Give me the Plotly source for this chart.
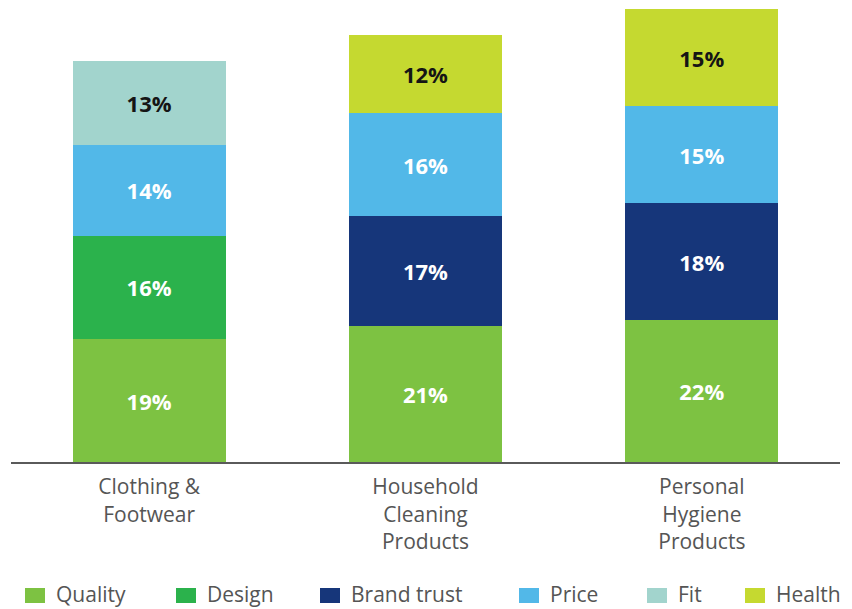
import plotly.graph_objects as go

# Purchase drivers by product category (share of respondents, %)
categories = ["Clothing &<br>Footwear", "Household<br>Cleaning<br>Products", "Personal<br>Hygiene<br>Products"]

quality = [19, 21, 22]
design = [16, None, None]
brand_trust = [None, 17, 18]
price = [14, 16, 15]
fit = [13, None, None]
health = [None, 12, 15]

series_names = ["Quality", "Design", "Brand trust", "Price", "Fit", "Health"]
series_values = [quality, design, brand_trust, price, fit, health]
series_colors = ["#7dc242", "#2bb24c", "#16367a", "#52b8e8", "#a2d4cd", "#c5d930"]
label_colors = ["#ffffff", "#ffffff", "#ffffff", "#ffffff", "#151515", "#151515"]

W, H = 852, 609
M_L, M_R, M_T, M_B = 11, 12, 8, 147
PLOT_W = W - M_L - M_R
PLOT_H = H - M_T - M_B

fig = go.Figure()
for name, vals, col, lcol in zip(series_names, series_values, series_colors, label_colors):
    fig.add_trace(go.Bar(
        x=categories,
        y=vals,
        name=name,
        marker=dict(color=col, line=dict(width=0)),
        texttemplate="%{y}%",
        textposition="inside",
        insidetextanchor="middle",
        textangle=0,
        constraintext="none",
        textfont=dict(family="Open Sans", size=22, color=lcol, weight="bold"),
        hoverinfo="skip",
    ))


def px_x(px):
    return (px - M_L) / PLOT_W


def px_y(py):
    return (H - M_B - py) / PLOT_H


# Legend row drawn under the axis: coloured swatch followed by its name
legend_left = [25, 176, 320, 519, 647, 745]
legend_row_y = 594
shapes = []
annotations = []
for name, col, lx in zip(series_names, series_colors, legend_left):
    shapes.append(dict(
        type="rect", xref="paper", yref="paper",
        x0=px_x(lx), x1=px_x(lx + 20),
        y0=px_y(legend_row_y + 1.5 + 7.5), y1=px_y(legend_row_y + 1.5 - 7.5),
        fillcolor=col, line=dict(width=0), layer="above",
    ))
    annotations.append(dict(
        xref="paper", yref="paper",
        x=px_x(lx + 29), y=px_y(legend_row_y),
        xanchor="left", yanchor="middle",
        text=name, showarrow=False,
        font=dict(family="Open Sans", size=21, color="#555555"),
    ))

fig.update_layout(
    width=W, height=H,
    margin=dict(l=M_L, r=M_R, t=M_T, b=M_B, pad=0),
    barmode="stack",
    bargap=0.446,
    showlegend=False,
    plot_bgcolor="#ffffff",
    paper_bgcolor="#ffffff",
    shapes=shapes,
    annotations=annotations,
    xaxis=dict(
        type="category",
        range=[-0.5, 2.5],
        showline=True, linecolor="#5a5a5a", linewidth=2,
        showgrid=False, zeroline=False,
        ticks="",
        tickfont=dict(family="Open Sans", size=21, color="#555555"),
        ticklabelstandoff=5,
        fixedrange=True,
    ),
    yaxis=dict(
        range=[0, 70.2],
        visible=False,
        showgrid=False, zeroline=False,
        fixedrange=True,
    ),
)

fig.write_html("out.html")
